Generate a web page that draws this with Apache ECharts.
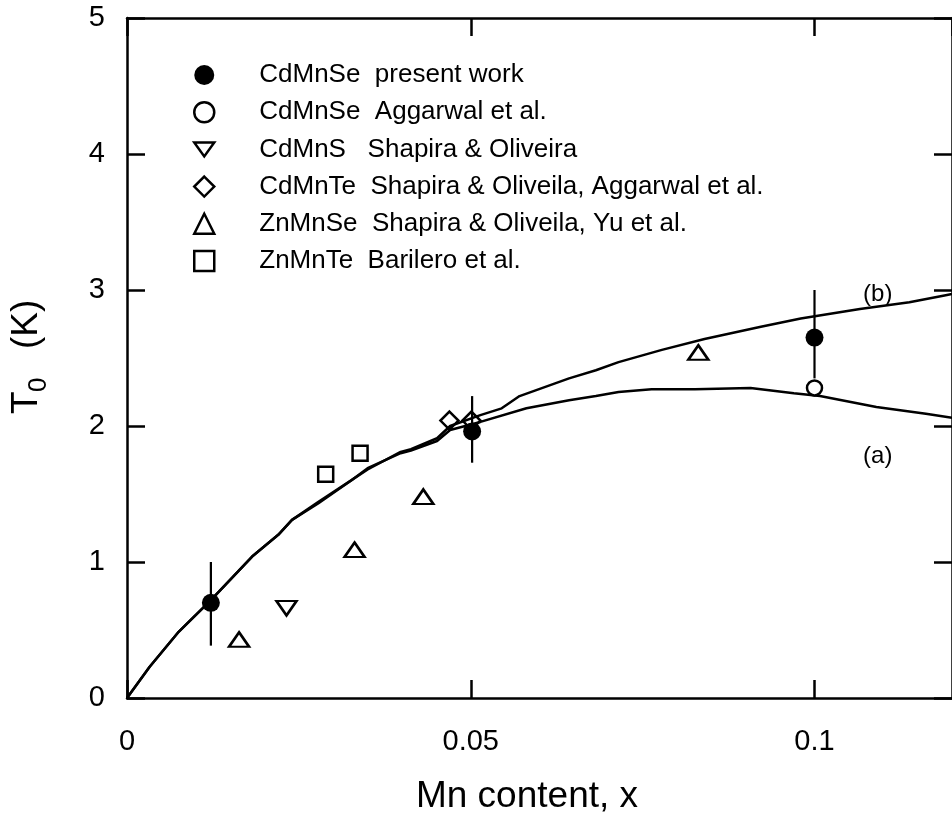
<!DOCTYPE html>
<html>
<head>
<meta charset="utf-8">
<script src="https://cdn.jsdelivr.net/npm/echarts@6/dist/echarts.min.js"></script>
<style>
  html, body { margin: 0; padding: 0; background: #fff; }
  #chart { width: 952px; height: 822px; }
</style>
</head>
<body>
<div id="chart"></div>
<script>
// Axis ranges and ticks
const xRange = [0, 0.12];
const xTickStep = 0.05;
const yRange = [0, 5];
const yTickStep = 1;

// CdMnSe present work (with error bars)
const presentX = [0.0122, 0.0502, 0.1];
const presentY = [0.70, 1.96, 2.65];
const presentLow = [0.385, 1.73, 2.35];
const presentHigh = [1.0, 2.22, 3.0];

// CdMnSe Aggarwal et al.
const aggarwalX = [0.1];
const aggarwalY = [2.28];

// CdMnS Shapira & Oliveira
const cdmnsX = [0.0232];
const cdmnsY = [0.66];

// CdMnTe Shapira & Oliveila, Aggarwal et al.
const cdmnteX = [0.0469, 0.0501];
const cdmnteY = [2.04, 2.04];

// ZnMnSe Shapira & Oliveila, Yu et al.
const znmnseX = [0.0163, 0.0331, 0.0431, 0.0831];
const znmnseY = [0.43, 1.09, 1.48, 2.54];

// ZnMnTe Barilero et al.
const znmnteX = [0.0289, 0.0339];
const znmnteY = [1.645, 1.80];

// Model curve (b)
const curveBX = [0, 0.0033, 0.0074, 0.0122, 0.0182, 0.022, 0.024, 0.0278, 0.0326, 0.035, 0.0398, 0.0413, 0.0451, 0.047, 0.0514, 0.0545, 0.0571, 0.0643, 0.0682, 0.0715, 0.0778, 0.084, 0.0922, 0.098, 0.1066, 0.1138, 0.1189, 0.12];
const curveBY = [0, 0.23, 0.48, 0.72, 1.04, 1.20, 1.31, 1.44, 1.60, 1.68, 1.81, 1.83, 1.91, 2.00, 2.08, 2.13, 2.22, 2.35, 2.41, 2.47, 2.56, 2.64, 2.73, 2.79, 2.86, 2.91, 2.96, 2.97];

// Model curve (a)
const curveAX = [0, 0.0033, 0.0074, 0.0122, 0.0182, 0.022, 0.024, 0.0278, 0.0326, 0.035, 0.0398, 0.0413, 0.0451, 0.047, 0.0514, 0.0581, 0.0643, 0.0682, 0.0715, 0.0763, 0.0826, 0.0907, 0.097, 0.1008, 0.109, 0.1162, 0.12];
const curveAY = [0, 0.23, 0.48, 0.72, 1.04, 1.20, 1.31, 1.43, 1.60, 1.69, 1.80, 1.82, 1.89, 1.97, 2.03, 2.13, 2.19, 2.22, 2.25, 2.27, 2.27, 2.28, 2.24, 2.22, 2.14, 2.09, 2.06];

const seriesNames = [
  'CdMnSe  present work',
  'CdMnSe  Aggarwal et al.',
  'CdMnS   Shapira & Oliveira',
  'CdMnTe  Shapira & Oliveila, Aggarwal et al.',
  'ZnMnSe  Shapira & Oliveila, Yu et al.',
  'ZnMnTe  Barilero et al.'
];

const FONT = '"Liberation Sans", Arial, Helvetica, sans-serif';
const INK = '#000';

function pairs(xs, ys) { return xs.map((x, i) => [x, ys[i]]); }

const chart = echarts.init(document.getElementById('chart'), null, { renderer: 'canvas' });

const axisLine = { show: true, onZero: false, lineStyle: { color: INK, width: 2.5 } };
const axisTick = { show: true, inside: true, length: 18, lineStyle: { color: INK, width: 2.5 } };

function hollow(name, xs, ys, symbol, size, fill) {
  return {
    name: name,
    type: 'scatter',
    data: pairs(xs, ys),
    symbol: symbol,
    symbolSize: size,
    itemStyle: { color: fill, borderColor: INK, borderWidth: 2.5, opacity: 1 },
    z: 4,
    silent: true
  };
}

function curve(xs, ys, tag, tagPos) {
  return {
    type: 'line',
    data: pairs(xs, ys),
    showSymbol: false,
    symbol: 'none',
    lineStyle: { color: INK, width: 2.5 },
    z: 2,
    silent: true,
    markPoint: {
      symbol: 'circle',
      symbolSize: 1,
      itemStyle: { color: 'rgba(0,0,0,0)' },
      label: { show: true, position: 'inside', formatter: tag, color: INK, fontSize: 24, fontFamily: FONT },
      data: [{ coord: tagPos, value: tag }]
    }
  };
}

const option = {
  animation: false,
  backgroundColor: '#fff',
  grid: { left: 127, top: 18, width: 833, height: 680 },
  legend: {
    orient: 'vertical',
    left: 193,
    top: 62,
    padding: 0,
    itemWidth: 20,
    itemHeight: 20,
    itemGap: 11.2,
    selectedMode: false,
    itemStyle: { borderWidth: 2.5 },
    textStyle: { fontSize: 26, lineHeight: 26, color: INK, fontFamily: FONT, padding: [0, 0, 0, 40] },
    data: seriesNames
  },
  xAxis: [
    {
      type: 'value', min: xRange[0], max: xRange[1], interval: xTickStep, position: 'bottom',
      axisLine: axisLine, axisTick: axisTick, splitLine: { show: false },
      axisLabel: { margin: 29, fontSize: 29, color: INK, fontFamily: FONT, showMaxLabel: false }
    },
    {
      type: 'value', min: xRange[0], max: xRange[1], interval: xTickStep, position: 'top',
      axisLine: axisLine, axisTick: axisTick, splitLine: { show: false },
      axisLabel: { show: false }
    }
  ],
  yAxis: [
    {
      type: 'value', min: yRange[0], max: yRange[1], interval: yTickStep, position: 'left',
      axisLine: axisLine, axisTick: axisTick, splitLine: { show: false },
      axisLabel: { margin: 22, fontSize: 29, color: INK, fontFamily: FONT, padding: [7, 0, 0, 0] }
    },
    {
      type: 'value', min: yRange[0], max: yRange[1], interval: yTickStep, position: 'right',
      axisLine: axisLine, axisTick: axisTick, splitLine: { show: false },
      axisLabel: { show: false }
    }
  ],
  graphic: [
    {
      type: 'text',
      x: 527, y: 797,
      style: {
        text: 'Mn content, x', font: '37px ' + FONT, fill: INK,
        align: 'center', verticalAlign: 'middle', textAlign: 'center', textVerticalAlign: 'middle'
      },
      silent: true
    },
    {
      type: 'group',
      x: 28, y: 358,
      rotation: Math.PI / 2,
      silent: true,
      children: [
        { type: 'text', x: -56, y: -1.5, style: { text: 'T', font: '37px ' + FONT, fill: INK, align: 'left', verticalAlign: 'middle', textAlign: 'left', textVerticalAlign: 'middle' } },
        { type: 'text', x: -34, y: 11, style: { text: '0', font: '26px ' + FONT, fill: INK, align: 'left', verticalAlign: 'middle', textAlign: 'left', textVerticalAlign: 'middle' } },
        { type: 'text', x: 9, y: -1.5, style: { text: '(K)', font: '37px ' + FONT, fill: INK, align: 'left', verticalAlign: 'middle', textAlign: 'left', textVerticalAlign: 'middle' } }
      ]
    }
  ],
  series: [
    curve(curveBX, curveBY, '(b)', [0.1092, 2.97]),
    curve(curveAX, curveAY, '(a)', [0.1092, 1.78]),
    {
      type: 'custom',
      data: presentX.map((x, i) => [x, presentLow[i], presentHigh[i]]),
      encode: { x: 0, y: [1, 2] },
      z: 3,
      silent: true,
      renderItem: function (params, api) {
        const lo = api.coord([api.value(0), api.value(1)]);
        const hi = api.coord([api.value(0), api.value(2)]);
        return {
          type: 'line',
          shape: { x1: lo[0], y1: lo[1], x2: hi[0], y2: hi[1] },
          style: { stroke: INK, lineWidth: 2.2 }
        };
      }
    },
    {
      name: seriesNames[0],
      type: 'scatter',
      data: pairs(presentX, presentY),
      symbol: 'circle',
      symbolSize: 18,
      itemStyle: { color: INK, borderWidth: 0, opacity: 1 },
      z: 5,
      silent: true
    },
    hollow(seriesNames[1], aggarwalX, aggarwalY, 'circle', 15, '#fff'),
    hollow(seriesNames[2], cdmnsX, cdmnsY, 'path://M-10,-7 L10,-7 L0,7 Z', [20, 14.5], '#fff'),
    hollow(seriesNames[3], cdmnteX, cdmnteY, 'diamond', 18, 'rgba(255,255,255,0)'),
    hollow(seriesNames[4], znmnseX, znmnseY, 'triangle', [20, 14.5], '#fff'),
    hollow(seriesNames[5], znmnteX, znmnteY, 'rect', 15, '#fff')
  ]
};

chart.setOption(option);
</script>
</body>
</html>
